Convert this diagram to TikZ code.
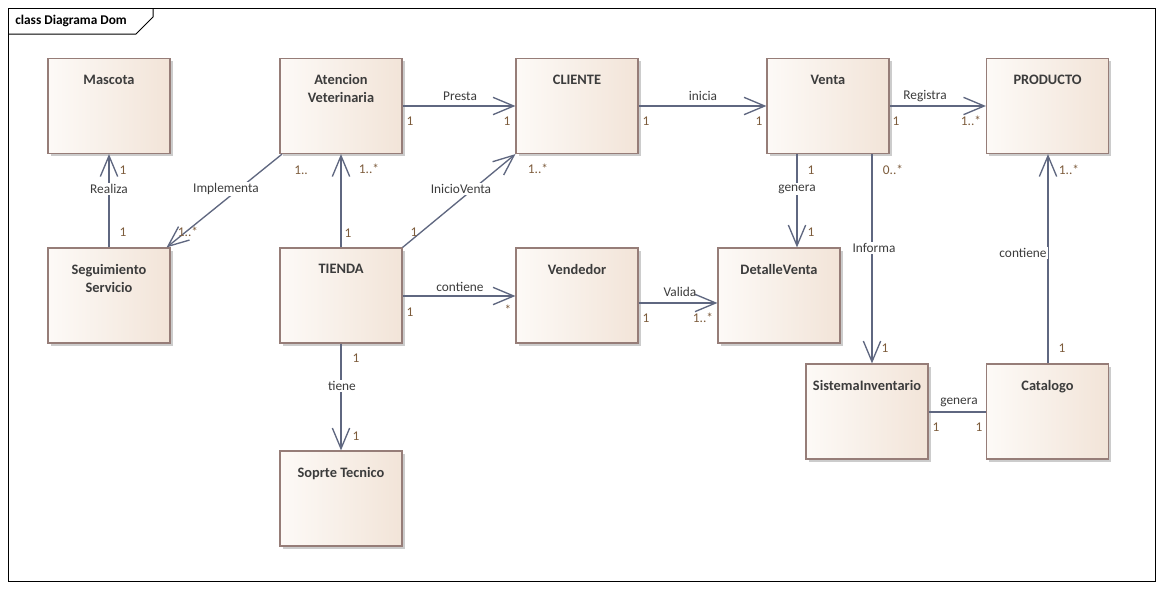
\documentclass[tikz,border=0pt]{standalone}
\usepackage{fontspec}
\setmainfont{Carlito}
\usepackage{tikz}
\usetikzlibrary{arrows.meta,shadows}

\definecolor{linecol}{RGB}{95,103,128}
\definecolor{boxline}{RGB}{150,125,120}
\definecolor{boxleft}{RGB}{253,250,247}
\definecolor{boxright}{RGB}{242,228,216}
\definecolor{namecol}{RGB}{60,60,60}
\definecolor{multcol}{RGB}{125,92,60}

\begin{document}
\begin{tikzpicture}[
  x=0.75pt, y=-0.75pt,
  cls/.style={draw=boxline, line width=0.9pt, rectangle, inner sep=0pt,
    minimum width=91.5pt, minimum height=71.25pt,
    left color=boxleft, right color=boxright,
    drop shadow={shadow xshift=2.2pt, shadow yshift=-2.2pt, fill=black!20, opacity=1}},
  clsname/.style={anchor=north, yshift=-12.5pt, inner sep=0pt, align=center,
    text=namecol, font=\fontsize{10.8}{13.5}\selectfont\bfseries},
  assoc/.style={draw=linecol, line width=1pt},
  arrow/.style={assoc, -{Straight Barb[length=15.5pt, width=13pt, line width=1pt]}},
  lbl/.style={fill=white, inner sep=1pt, text=namecol, font=\fontsize{10}{12}\selectfont},
  mult/.style={inner sep=0pt, text=multcol, font=\fontsize{10}{12}\selectfont}
]
\fill[white] (0,0) rectangle (1163,590);
\useasboundingbox (0,0) rectangle (1163,590);

% frame
\draw[line width=0.75pt] (8,8) rectangle (1155,581);
\draw[line width=0.75pt] (8,34) -- (136,34) -- (153,17) -- (153,8);
\node[anchor=west, inner sep=0pt, font=\fontsize{10}{12}\selectfont\bfseries] (title) at (15,21) {class Diagrama Dom};

% classes
\node[cls, label={[clsname]north:Mascota}] (mascota) at (109,106) {};
\node[cls, label={[clsname]north:Atencion\\Veterinaria}] (atencion) at (341,106) {};
\node[cls, label={[clsname]north:CLIENTE}] (cliente) at (577,106) {};
\node[cls, label={[clsname]north:Venta}] (venta) at (828,106) {};
\node[cls, label={[clsname]north:PRODUCTO}] (producto) at (1047.5,106) {};
\node[cls, label={[clsname]north:Seguimiento\\Servicio}] (seguimiento) at (109,295.5) {};
\node[cls, label={[clsname]north:TIENDA}] (tienda) at (341,295.5) {};
\node[cls, label={[clsname]north:Vendedor}] (vendedor) at (577,295.5) {};
\node[cls, label={[clsname]north:DetalleVenta}] (detalle) at (779,295.5) {};
\node[cls, label={[clsname]north:SistemaInventario}] (sistema) at (867,411.5) {};
\node[cls, label={[clsname]north:Catalogo}] (catalogo) at (1047.5,411.5) {};
\node[cls, label={[clsname]north:Soprte Tecnico}] (soporte) at (341,498.5) {};

% associations
\draw[arrow] (seguimiento.north) -- (mascota.south);
\draw[arrow] ([xshift=2pt]atencion.south west) -- ([xshift=-3pt]seguimiento.north east);
\draw[arrow] (tienda.north) -- (atencion.south);
\draw[arrow] (atencion.east) -- (cliente.west);
\draw[arrow] (tienda.north east) -- (cliente.south west);
\draw[arrow] (cliente.east) -- (venta.west);
\draw[arrow] (venta.east) -- (producto.west);
\draw[arrow] ([xshift=-23.25pt]venta.south) -- ([xshift=-23.25pt]venta.south |- detalle.north);
\draw[arrow] ([xshift=33pt]venta.south) -- ([xshift=33pt]venta.south |- sistema.north);
\draw[arrow] ([xshift=0.375pt]catalogo.north) -- ([xshift=0.375pt]producto.south);
\draw[assoc] ([yshift=-0.375pt]sistema.east) -- ([yshift=-0.375pt]catalogo.west);
\draw[arrow] ([yshift=-0.375pt]tienda.east) -- ([yshift=-0.375pt]vendedor.west);
\draw[arrow] ([yshift=-5.6pt]vendedor.east) -- ([yshift=-5.6pt]vendedor.east -| detalle.west);
\draw[arrow] (tienda.south) -- (soporte.north);

% association names
\node[lbl] (l-realiza) at (109,189) {Realiza};
\node[lbl] (l-implementa) at (226,189) {Implementa};
\node[lbl] (l-inicioventa) at (461,189) {InicioVenta};
\node[lbl] (l-presta) at (460,96) {Presta};
\node[lbl] (l-inicia) at (703,96) {inicia};
\node[lbl] (l-registra) at (925,96) {Registra};
\node[lbl] (l-genera1) at (797,189) {genera};
\node[lbl] (l-informa) at (874,248) {Informa};
\node[lbl] (l-contiene1) at (1023,253) {contiene};
\node[lbl] (l-contiene2) at (460,287) {contiene};
\node[lbl, fill=none] (l-valida) at (680,292) {Valida};
\node[lbl] (l-tiene) at (342,386) {tiene};
\node[lbl, fill=none] (l-genera2) at (959,402) {genera};

% multiplicities
\node[mult] (m1) at (123,170) {1};
\node[mult] (m2) at (123,232) {1};
\node[mult] (m3) at (301,170) {1..};
\node[mult] (m4) at (188,232) {1..*};
\node[mult] (m5) at (369,169) {1..*};
\node[mult] (m6) at (348,233) {1};
\node[mult] (m7) at (410,121) {1};
\node[mult] (m8) at (507,121) {1};
\node[mult] (m9) at (414,232) {1};
\node[mult] (m10) at (538,169) {1..*};
\node[mult] (m11) at (646,121) {1};
\node[mult] (m12) at (759,121) {1};
\node[mult] (m13) at (896,121) {1};
\node[mult] (m14) at (971,121) {1..*};
\node[mult] (m15) at (811,170) {1};
\node[mult] (m16) at (811,232) {1};
\node[mult] (m17) at (893,170) {0..*};
\node[mult] (m18) at (885,348) {1};
\node[mult] (m19) at (1069,170) {1..*};
\node[mult] (m20) at (1062,348) {1};
\node[mult] (m21) at (936,427) {1};
\node[mult] (m22) at (979,427) {1};
\node[mult] (m23) at (410,312) {1};
\node[mult] (m24) at (508,310) {*};
\node[mult] (m25) at (646,318) {1};
\node[mult] (m26) at (703,318) {1..*};
\node[mult] (m27) at (356,358) {1};
\node[mult] (m28) at (356,436) {1};
\end{tikzpicture}
\end{document}
